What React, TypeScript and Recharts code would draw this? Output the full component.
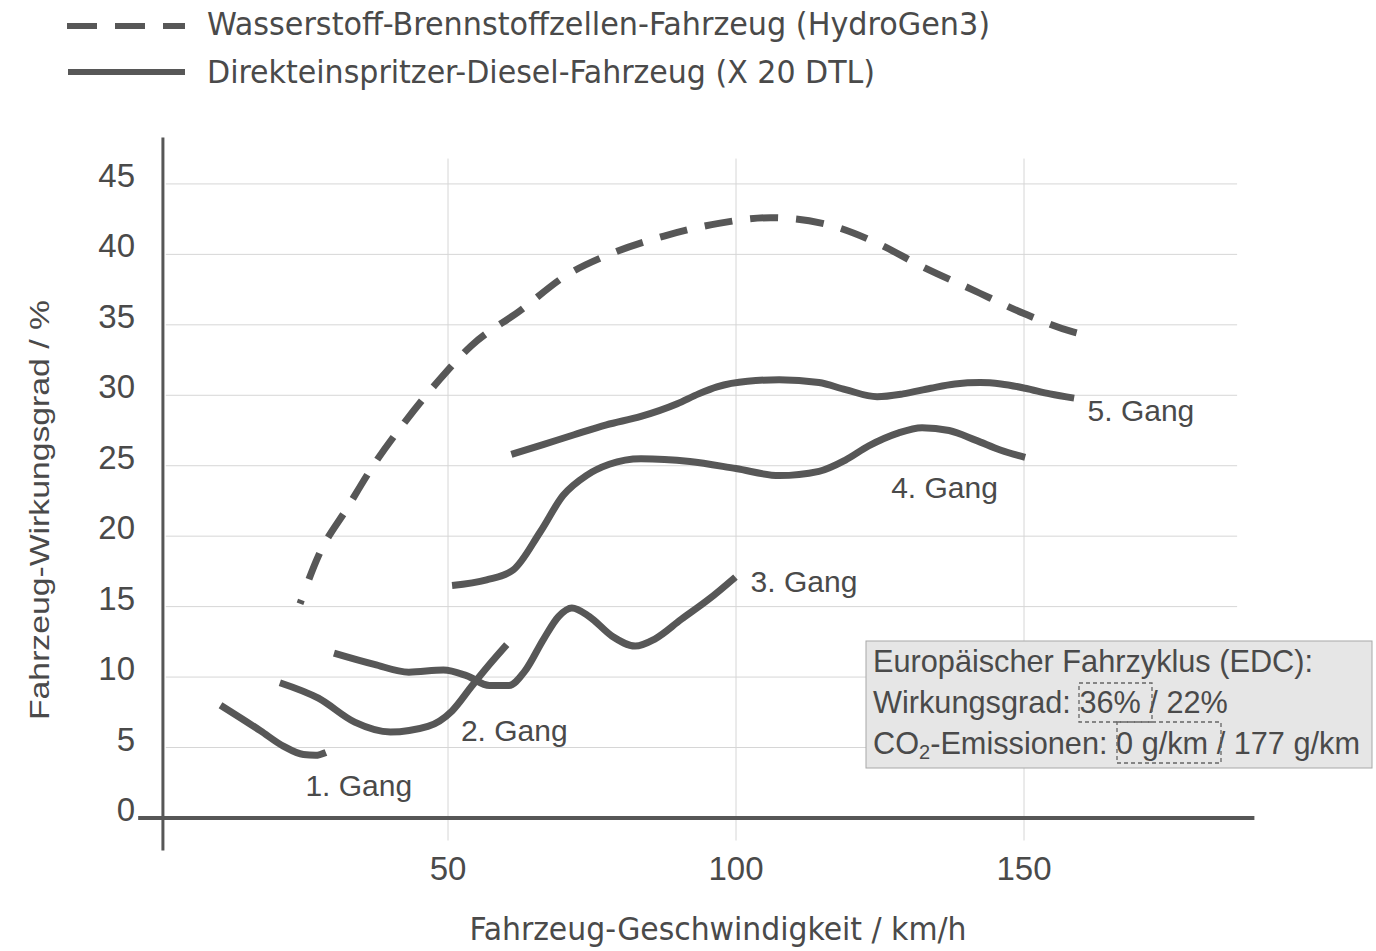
import {
  LineChart,
  Line,
  XAxis,
  YAxis,
  ReferenceLine,
  ReferenceDot,
  Legend,
} from 'recharts';

// Wasserstoff (HydroGen3), gestrichelt
const hydrogenX = [24.3, 27.5, 32.5, 37, 42.5, 48.5, 54, 62.5, 70.5, 78, 87.5, 97, 106, 115, 124.5, 132, 141, 150, 158.5, 161.5];
const hydrogenY = [15.2, 18.6, 22, 25, 28.1, 31.1, 33.5, 36, 38.5, 40, 41.3, 42.2, 42.6, 42.2, 40.8, 39.2, 37.5, 35.8, 34.5, 34.2];

// Diesel (X 20 DTL), je Gang
const gear1X = [10.5, 14, 17.4, 21.4, 24.9, 27, 28.8];
const gear1Y = [8.0, 7.1, 6.2, 5.1, 4.5, 4.45, 4.65];

const gear2X = [20.8, 27.5, 33.8, 40, 46.5, 50.7, 54.2, 57, 60.2];
const gear2Y = [9.6, 8.5, 6.8, 6.1, 6.5, 7.6, 9.4, 10.8, 12.3];

const gear3X = [30.2, 37.2, 43.2, 49.2, 53.2, 57.2, 60.6, 63.3, 66.6, 69.2, 71.5, 74.5, 78.5, 82.5, 85.9, 90.5, 95.2, 99.9];
const gear3Y = [11.7, 10.9, 10.35, 10.5, 10.1, 9.4, 9.4, 10.4, 12.7, 14.3, 14.9, 14.3, 12.9, 12.2, 12.7, 14.1, 15.5, 17.1];

const gear4X = [50.7, 56.7, 61.3, 66, 70, 74, 78, 83.5, 92, 100, 107.5, 114.4, 119, 123, 128, 132.3, 137, 141.7, 146, 150.2];
const gear4Y = [16.5, 16.9, 17.6, 20.3, 22.9, 24.3, 25.1, 25.5, 25.3, 24.8, 24.3, 24.6, 25.4, 26.4, 27.3, 27.7, 27.5, 26.8, 26.1, 25.6];

const gear5X = [61, 66.5, 71.9, 77.5, 83.5, 89.8, 93.5, 96.7, 102, 107.5, 114.4, 119, 124.5, 129, 133.8, 138, 142.4, 146, 150.2, 154.5, 158.7];
const gear5Y = [25.8, 26.5, 27.2, 27.9, 28.5, 29.4, 30.1, 30.6, 31, 31.1, 30.9, 30.4, 29.9, 30.1, 30.5, 30.8, 30.9, 30.8, 30.5, 30.1, 29.8];

const gearNames = ['1. Gang', '2. Gang', '3. Gang', '4. Gang', '5. Gang'];
const gearLabelX = [34.5, 61.5, 111.8, 136.2, 170.3];
const gearLabelY = [2.3, 6.2, 16.8, 23.5, 28.9];

const xTicks = [50, 100, 150];
const yTicks = [0, 5, 10, 15, 20, 25, 30, 35, 40, 45];

const legendNames = [
  'Wasserstoff-Brennstoffzellen-Fahrzeug (HydroGen3)',
  'Direkteinspritzer-Diesel-Fahrzeug (X 20 DTL)',
];

const xTitle = 'Fahrzeug-Geschwindigkeit / km/h';
const yTitle = 'Fahrzeug-Wirkungsgrad / %';

const boxTitle = 'Europäischer Fahrzyklus (EDC):';
const effLabel = 'Wirkungsgrad:';
const effValues = ['36%', '22%'];
const co2Label = 'CO';
const co2Values = ['0 g/km', '177 g/km'];

const lineColor = '#575757';
const textColor = '#4a4a4a';
const gridColor = '#d6d6d6';
const arial = "'Liberation Sans', Arial, sans-serif";
const condensed = "'DejaVu Sans Condensed', 'DejaVu Sans', sans-serif";

const pts = (xs: number[], ys: number[]) => xs.map((x, i) => ({ x, y: ys[i] }));

const gears = [
  pts(gear1X, gear1Y),
  pts(gear2X, gear2Y),
  pts(gear3X, gear3Y),
  pts(gear4X, gear4Y),
  pts(gear5X, gear5Y),
];

function XTick(props: any) {
  const { x, y, payload } = props;
  return (
    <text x={x} y={y + 27} textAnchor="middle" fontFamily={arial} fontSize={33} fill={textColor}>
      {payload.value}
    </text>
  );
}

function YTick(props: any) {
  const { x, y, payload } = props;
  return (
    <text x={x} y={y + 3} textAnchor="end" fontFamily={arial} fontSize={33} fill={textColor}>
      {payload.value}
    </text>
  );
}

function LegendBox() {
  return (
    <svg width={1000} height={100} style={{ display: 'block' }}>
      <line x1={67} x2={185} y1={26} y2={26} stroke={lineColor} strokeWidth={6} strokeDasharray="30 18" />
      <line x1={68} x2={185} y1={72} y2={72} stroke={lineColor} strokeWidth={6} />
      <text x={207} y={35} fontFamily={condensed} fontSize={32} fill={textColor} textLength={783} lengthAdjust="spacingAndGlyphs">
        {legendNames[0]}
      </text>
      <text x={207} y={83} fontFamily={condensed} fontSize={32} fill={textColor} textLength={668} lengthAdjust="spacingAndGlyphs">
        {legendNames[1]}
      </text>
    </svg>
  );
}

export default function App() {
  const hLines = yTicks.filter((v) => v > 0);
  return (
    <div style={{ position: 'absolute', left: 0, top: 0, width: 1376, height: 951, background: '#fff' }}>
      <LineChart width={1376} height={951} margin={{ top: 134.6, right: 121.6, bottom: 47.8, left: 77 }}>
        <XAxis
          type="number"
          dataKey="x"
          domain={[-4, 190]}
          ticks={xTicks}
          allowDataOverflow
          axisLine={false}
          tickLine={false}
          tickSize={0}
          tickMargin={0}
          height={50}
          tick={<XTick />}
        />
        <YAxis
          type="number"
          domain={[-2.5, 48.5]}
          ticks={yTicks}
          allowDataOverflow
          axisLine={false}
          tickLine={false}
          tickSize={0}
          tickMargin={2}
          width={60}
          tick={<YTick />}
        />
        <Legend
          layout="horizontal"
          verticalAlign="middle"
          align="center"
          wrapperStyle={{ top: 0, left: 0, width: 1000, height: 100 }}
          content={() => <LegendBox />}
        />

        {hLines.map((v) => (
          <ReferenceLine key={`h${v}`} segment={[{ x: 1, y: v }, { x: 187, y: v }]} stroke={gridColor} strokeWidth={1} />
        ))}
        {xTicks.map((v) => (
          <ReferenceLine key={`v${v}`} segment={[{ x: v, y: -1.6 }, { x: v, y: 46.8 }]} stroke={gridColor} strokeWidth={1} />
        ))}
        <ReferenceLine segment={[{ x: -3.8, y: 0 }, { x: 190, y: 0 }]} stroke={lineColor} strokeWidth={4} />
        <ReferenceLine segment={[{ x: 0.5, y: -2.3 }, { x: 0.5, y: 48.3 }]} stroke={lineColor} strokeWidth={3} />

        <Line
          data={pts(hydrogenX, hydrogenY)}
          dataKey="y"
          type="monotone"
          stroke={lineColor}
          strokeWidth={7}
          strokeDasharray="4 22 28 18 28 18 28 18 28 18 28 18 28 18 28 18 28 18 28 18 28 18 28 18 28 18 28 18 28 18 28 18 28 18 28 18 28 18 28 18 28 18 28 18 28 18 28 18 28 18"
          dot={false}
          activeDot={false}
          isAnimationActive={false}
          legendType="none"
        />
        {gears.map((g, i) => (
          <Line
            key={gearNames[i]}
            data={g}
            dataKey="y"
            type="monotone"
            stroke={lineColor}
            strokeWidth={7}
            dot={false}
            activeDot={false}
            isAnimationActive={false}
            legendType="none"
          />
        ))}

        {gearNames.map((name, i) => (
          <ReferenceDot
            key={`l${name}`}
            x={gearLabelX[i]}
            y={gearLabelY[i]}
            r={0}
            fill="none"
            stroke="none"
            label={{ value: name, position: 'center', fill: textColor, fontSize: 30, fontFamily: arial }}
          />
        ))}
      </LineChart>

      {/* Achsentitel und EDC-Kasten */}
      <svg width={1376} height={951} style={{ position: 'absolute', left: 0, top: 0, pointerEvents: 'none' }}>
        <text x={718} y={940} textAnchor="middle" fontFamily={condensed} fontSize={32} fill={textColor} textLength={497} lengthAdjust="spacingAndGlyphs">
          {xTitle}
        </text>
        <text
          transform="translate(49 510) rotate(-90)"
          textAnchor="middle"
          fontFamily={arial}
          fontSize={28}
          fill={textColor}
          textLength={420}
          lengthAdjust="spacingAndGlyphs"
        >
          {yTitle}
        </text>

        <rect x={866} y={641} width={506} height={127} fill="#e6e6e6" stroke="#a8a8a8" strokeWidth={1} />
        <text x={873} y={672} fontFamily={arial} fontSize={30.7} fill={textColor}>
          {boxTitle}
        </text>
        <text x={873} y={713} fontFamily={arial} fontSize={30.7} fill={textColor}>
          {effLabel} {effValues[0]} / {effValues[1]}
        </text>
        <text x={873} y={754} fontFamily={arial} fontSize={30.7} fill={textColor}>
          {co2Label}
          <tspan fontSize={20} dy={5}>2</tspan>
          <tspan dy={-5}>-Emissionen: {co2Values[0]} / {co2Values[1]}</tspan>
        </text>
        <rect x={1079} y={683} width={73} height={39} fill="none" stroke="#666" strokeWidth={1.3} strokeDasharray="4 3" />
        <rect x={1117} y={722} width={104} height={41} fill="none" stroke="#666" strokeWidth={1.3} strokeDasharray="4 3" />
      </svg>
    </div>
  );
}
